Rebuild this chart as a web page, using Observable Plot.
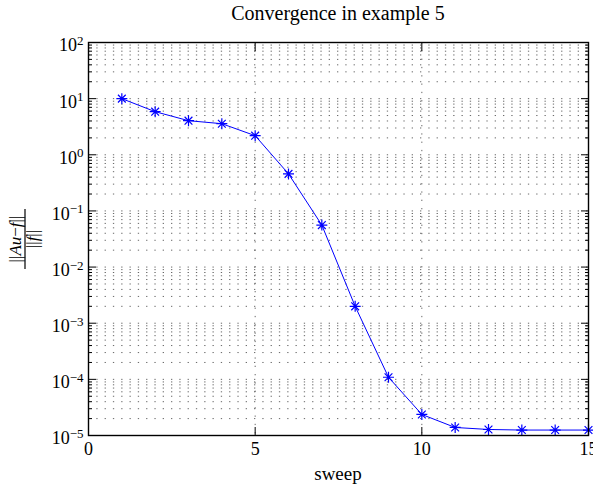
<!DOCTYPE html>
<html><head>
<meta charset="utf-8">
<script src="https://cdn.jsdelivr.net/npm/d3@7"></script>
<script src="https://cdn.jsdelivr.net/npm/@observablehq/plot@0.6"></script>
<style>
body{margin:0;background:#fff}
svg{font-family:"Liberation Serif","Times New Roman",serif}
</style>
</head><body><div id="chart"></div>
<script>
const sweeps = [1,2,3,4,5,6,7,8,9,10,11,12,13,14,15];
const residuals = [10, 5.86, 4.05, 3.58, 2.19, 0.457, 0.056, 0.002, 1.09e-4, 2.37e-5, 1.39e-5, 1.28e-5, 1.25e-5, 1.25e-5, 1.25e-5];
const xTicks = [0, 5, 10, 15];
const xGrid = [5, 10];
const yExponents = [-5, -4, -3, -2, -1, 0, 1, 2];
const titleText = "Convergence in example 5";
const xLabelText = "sweep";

const data = sweeps.map((s, i) => ({sweep: s, r: residuals[i]}));
const yMajor = yExponents.map(e => Math.pow(10, e));
const yMinor = [];
for (const e of yExponents.slice(0, -1)) for (let m = 2; m <= 9; m++) yMinor.push(m * Math.pow(10, e));
const yAllGrid = yMajor.concat(yMinor);

const asterisk8 = {
  draw(ctx, size) {
    const r = Math.sqrt(size / Math.PI);
    for (let k = 0; k < 4; k++) {
      const a = k * Math.PI / 4;
      const dx = r * Math.cos(a), dy = r * Math.sin(a);
      ctx.moveTo(-dx, -dy); ctx.lineTo(dx, dy);
    }
  }
};

const dash = "1.3,7";
const plot = Plot.plot({
  width: 593, height: 488,
  marginTop: 42, marginBottom: 53, marginLeft: 88, marginRight: 5,
  style: {fontFamily: '"Liberation Serif","Times New Roman",serif', fontSize: "18px", color: "#000", background: "#fff"},
  x: {domain: [0, 15], label: null},
  y: {type: "log", domain: [1e-5, 1e2], label: null},
  marks: [
    Plot.gridY(yAllGrid, {stroke: "#000", strokeOpacity: 0.75, strokeWidth: 0.8, strokeDasharray: dash}),
    Plot.gridX(xGrid, {stroke: "#000", strokeOpacity: 0.75, strokeWidth: 0.8, strokeDasharray: dash}),
    Plot.axisY(yMajor, {anchor: "left", tickSize: -8, fill: "none", label: null}),
    Plot.axisY(yMajor, {anchor: "right", tickSize: -8, fill: "none", label: null}),
    Plot.axisY(yMinor, {anchor: "left", tickSize: -4, fill: "none", label: null}),
    Plot.axisY(yMinor, {anchor: "right", tickSize: -4, fill: "none", label: null}),
    Plot.axisX(xGrid, {anchor: "bottom", tickSize: -8, fill: "none", label: null}),
    Plot.axisX(xGrid, {anchor: "top", tickSize: -8, fill: "none", label: null}),
    Plot.axisY(yMajor, {anchor: "left", tickSize: 0, tickPadding: 5, stroke: "none", dy: 3.2, label: null,
      tickFormat: d => "10^" + String(Math.round(Math.log10(d))).replace("-", "\u2212")}),
    Plot.axisX(xTicks, {anchor: "bottom", tickSize: 0, tickPadding: 7, stroke: "none", label: null, tickFormat: d => String(d)}),
    Plot.line(data, {x: "sweep", y: "r", stroke: "#0000ff", strokeWidth: 1}),
    Plot.dot(data, {x: "sweep", y: "r", symbol: asterisk8, r: 5.5, stroke: "#0000ff", strokeWidth: 1.2, fill: "none"}),
    Plot.frame({stroke: "#000", strokeWidth: 1.4})
  ]
});

const svg = d3.select(plot);
svg.selectAll("g[aria-label='y-axis tick label'] text").each(function() {
  const t = this.textContent;
  const [b, e] = t.split("^");
  const s = d3.select(this);
  s.text(null);
  s.append("tspan").text(b);
  s.append("tspan").attr("dy", "-0.5em").attr("font-size", "13px").text(e);
});

svg.append("text").attr("x", 338).attr("y", 20).attr("text-anchor", "middle")
  .attr("font-size", "20px").attr("fill", "#000").text(titleText);
svg.append("text").attr("x", 338).attr("y", 480).attr("text-anchor", "middle")
  .attr("font-size", "19px").attr("fill", "#000").text(xLabelText);

const g = svg.append("g").attr("transform", "translate(25,239) rotate(-90)").attr("fill", "#000");
const num = g.append("text").attr("x", 0).attr("y", -4).attr("text-anchor", "middle").attr("font-size", "17px");
num.append("tspan").text("||");
num.append("tspan").attr("font-style", "italic").text("Au");
num.append("tspan").text("\u2212");
num.append("tspan").attr("font-style", "italic").text("f");
num.append("tspan").text("||");
g.append("line").attr("x1", -30).attr("x2", 30).attr("y1", 0).attr("y2", 0).attr("stroke", "#000").attr("stroke-width", 1.2);
const den = g.append("text").attr("x", 0).attr("y", 13).attr("text-anchor", "middle").attr("font-size", "17px");
den.append("tspan").text("||");
den.append("tspan").attr("font-style", "italic").text("f");
den.append("tspan").text("||");

document.getElementById("chart").appendChild(plot);
</script>
</body></html>
